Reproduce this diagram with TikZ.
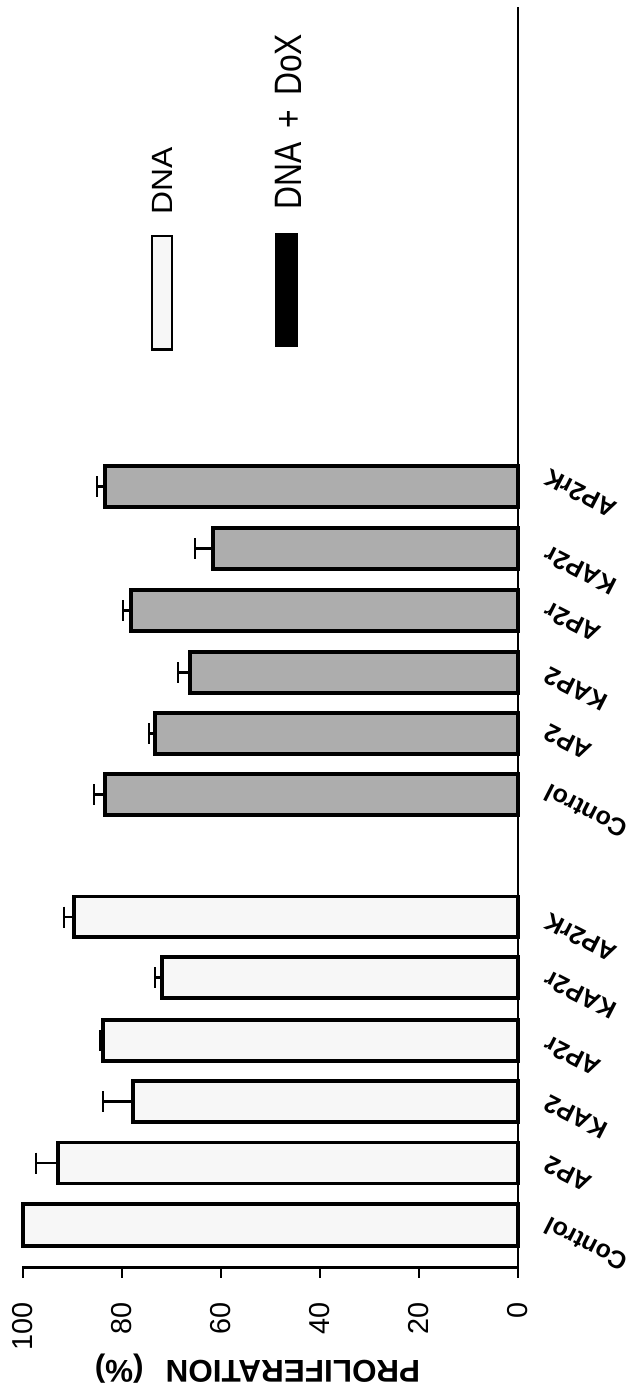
\documentclass[tikz,border=0pt]{standalone}
\usepackage{fontspec}
\setmainfont{Liberation Sans}
\usetikzlibrary{calc}

\tikzset{
  dnabar/.style={draw, line width=2pt, fill=black!3},
  doxbar/.style={draw, line width=2pt, fill=black!32},
  errbar/.style={line width=1.4pt},
  ticklabel/.style={rotate=90, anchor=east, inner sep=0pt, font=\fontsize{16.4}{18}\selectfont},
  barlabel/.style={rotate=153, anchor=east, inner sep=0pt, font=\bfseries\fontsize{14.2}{16}\selectfont},
  legendlabel/.style={rotate=90, anchor=west, inner sep=0pt, font=\fontsize{18.1}{20}\selectfont}
}

\begin{document}
\begin{tikzpicture}[x=0.02cm, y=-0.02cm]
        \useasboundingbox (0,0) rectangle (638,1390);

        \draw[dnabar] (23,1204) rectangle (518,1246);
        \draw[dnabar] (58,1142.5) rectangle (518,1183.5);
        \draw[dnabar] (133,1081) rectangle (518,1122);
        \draw[dnabar] (103,1020) rectangle (518,1061);
        \draw[dnabar] (162,957) rectangle (518,998);
        \draw[dnabar] (74,896.5) rectangle (518,937);

        \draw[doxbar] (105,774) rectangle (518,815);
        \draw[doxbar] (155,713) rectangle (518,754);
        \draw[doxbar] (190,652) rectangle (518,693);
        \draw[doxbar] (131,590) rectangle (518,631);
        \draw[doxbar] (213,528) rectangle (518,569);
        \draw[doxbar] (105,466) rectangle (518,507);

        \draw[errbar] (58,1163) -- (36,1163) (36,1152.5) -- (36,1173.5);
        \draw[errbar] (133,1101.5) -- (103,1101.5) (103,1091) -- (103,1112);
        \draw[errbar, line width=2.4pt] (101,1030) -- (101,1051);
        \draw[errbar] (162,977.5) -- (155,977.5) (155,967) -- (155,988);
        \draw[errbar] (74,917) -- (64,917) (64,906.5) -- (64,927.5);

        \draw[errbar] (105,794.5) -- (94,794.5) (94,784) -- (94,805);
        \draw[errbar] (155,733.5) -- (149,733.5) (149,723) -- (149,744);
        \draw[errbar] (190,672.5) -- (178,672.5) (178,662) -- (178,683);
        \draw[errbar] (131,610.5) -- (123,610.5) (123,600) -- (123,621);
        \draw[errbar] (213,548.5) -- (195,548.5) (195,538) -- (195,559);
        \draw[errbar] (105,486.5) -- (97,486.5) (97,476) -- (97,497);

        \draw[line width=1.7pt] (518,7) -- (518,1278);
        \draw[line width=1.7pt] (23,1278) -- (23,1267) -- (518,1267);
        \draw[line width=1.7pt] (122,1267) -- (122,1278);
        \draw[line width=1.7pt] (221,1267) -- (221,1278);
        \draw[line width=1.7pt] (320,1267) -- (320,1278);
        \draw[line width=1.7pt] (419,1267) -- (419,1278);

        \node (t100) [ticklabel] at (23,1302) {100};
        \node (t80) [ticklabel] at (122,1302) {80};
        \node (t60) [ticklabel] at (221,1302) {60};
        \node (t40) [ticklabel] at (320,1302) {40};
        \node (t20) [ticklabel] at (419,1302) {20};
        \node (t0) [ticklabel] at (518,1302) {0};
        \node (ylabel) [rotate=180, anchor=base, inner sep=0pt, font=\bfseries\fontsize{17.9}{20}\selectfont] at (257.5,1360) {PROLIFERATION\hspace{0.7em}(\%)};

        \node (dnacontrol) [barlabel] at (546,1224) {Control};
        \node (dnaap) [barlabel] at (546,1163) {AP2};
        \node (dnakap) [barlabel] at (546,1101.5) {KAP2};
        \node (dnaapr) [barlabel] at (546,1043) {AP2r};
        \node (dnakapr) [barlabel] at (546,977.5) {KAP2r};
        \node (dnaaprk) [barlabel] at (546,920) {AP2rK};
        \node (doxcontrol) [barlabel] at (546,791) {Control};
        \node (doxap) [barlabel] at (546,731) {AP2};
        \node (doxkap) [barlabel] at (546,674) {KAP2};
        \node (doxapr) [barlabel] at (546,609) {AP2r};
        \node (doxkapr) [barlabel] at (546,553) {KAP2r};
        \node (doxaprk) [barlabel] at (546,476) {AP2rK};

        \draw[line width=1.7pt, fill=black!3] (152,236) rectangle (172,349);
        \fill (275,233) rectangle (298,347);
        \node (dnakey) [legendlabel, yscale=0.92] at (162.5,215) {DNA};
        \node (doxkey) [legendlabel, yscale=1.2] at (289,210) {DNA \,+\, DoX};
    \end{tikzpicture}
\end{document}
